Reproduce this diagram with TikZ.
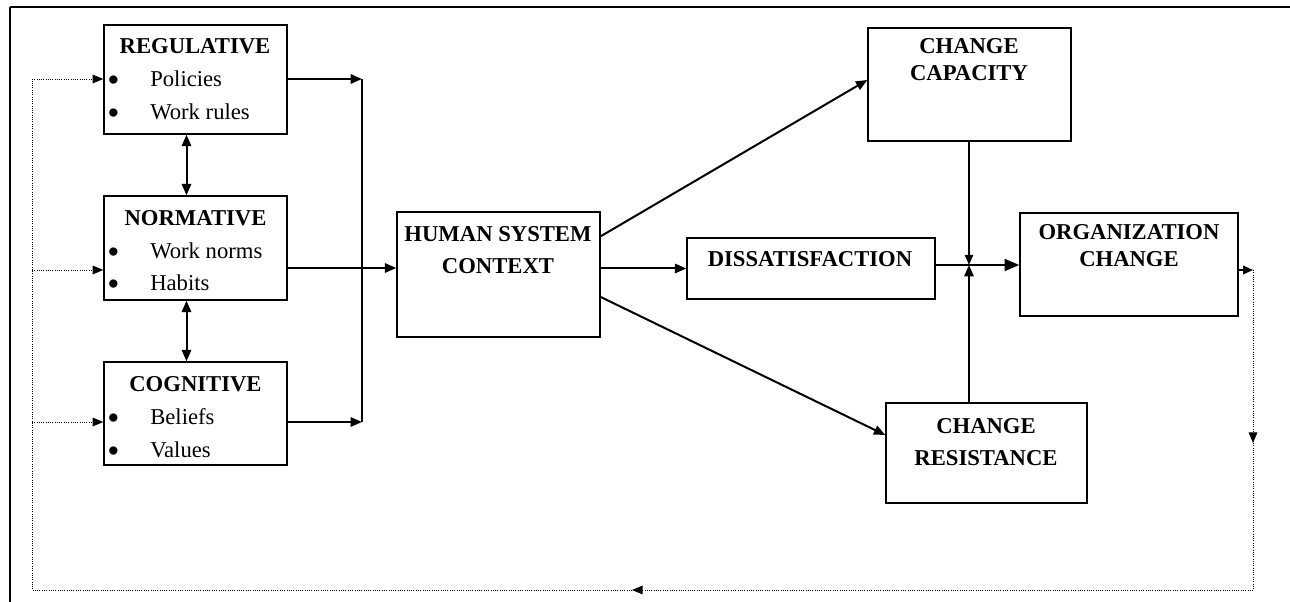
\documentclass[tikz,border=0pt]{standalone}
\usepackage{fontspec}
\setmainfont{Liberation Serif}
\usetikzlibrary{arrows.meta,calc}
\begin{document}
\begin{tikzpicture}[x=0.75pt,y=-0.75pt,
  box/.style={draw, line width=1.1pt, inner sep=0pt},
  ttl/.style={font=\fontsize{17}{20}\selectfont\bfseries, inner sep=0pt, anchor=base},
  itm/.style={font=\fontsize{17}{20}\selectfont, inner sep=0pt, anchor=base west},
  bul/.style={font=\fontsize{26}{28}\selectfont, inner sep=0pt, anchor=base},
  arr/.style={line width=1.5pt, -{Triangle[length=8.5pt,width=7pt]}},
  darr/.style={line width=1.5pt, {Triangle[length=8.5pt,width=7pt]}-{Triangle[length=8.5pt,width=7pt]}},
  ln/.style={line width=1.5pt},
  dot/.style={line width=0.7pt, densely dotted},
  dotarr/.style={line width=0.7pt, densely dotted, -{Triangle[length=8pt,width=6.5pt]}}
]
\useasboundingbox (0,0) rectangle (1290,602);
% outer frame
\draw[line width=2.2pt] (10,7) -- (1290,7);
\draw[line width=1.5pt] (10,7) -- (10,602);

% boxes
\node[box, minimum width=183*0.75pt, minimum height=109*0.75pt] (reg) at (195.5,79.5) {};
\node[box, minimum width=183*0.75pt, minimum height=104*0.75pt] (nor) at (195.5,248) {};
\node[box, minimum width=183*0.75pt, minimum height=103*0.75pt] (cog) at (195.5,413.5) {};
\node[box, minimum width=203*0.75pt, minimum height=125*0.75pt] (hsc) at (498.5,274.5) {};
\node[box, minimum width=248*0.75pt, minimum height=61*0.75pt] (dis) at (811,268.5) {};
\node[box, minimum width=203*0.75pt, minimum height=113*0.75pt] (cap) at (969.5,84.5) {};
\node[box, minimum width=218*0.75pt, minimum height=103*0.75pt] (org) at (1129,264.5) {};
\node[box, minimum width=201*0.75pt, minimum height=100*0.75pt] (res) at (986.5,453) {};

% texts
\node[ttl] (regT) at (195,53.5) {REGULATIVE};
\node[bul] (regB1) at (113.5,92) {\textbullet};
\node[itm] (regI1) at (150,86.5) {Policies};
\node[bul] (regB2) at (113.5,125) {\textbullet};
\node[itm] (regI2) at (150,119.5) {Work rules};

\node[ttl] (norT) at (195.5,225.5) {NORMATIVE};
\node[bul] (norB1) at (113.5,264) {\textbullet};
\node[itm] (norI1) at (150,258.5) {Work norms};
\node[bul] (norB2) at (113.5,296) {\textbullet};
\node[itm] (norI2) at (150,290.5) {Habits};

\node[ttl] (cogT) at (195.5,391.5) {COGNITIVE};
\node[bul] (cogB1) at (113.5,430) {\textbullet};
\node[itm] (cogI1) at (150,424.5) {Beliefs};
\node[bul] (cogB2) at (113.5,463) {\textbullet};
\node[itm] (cogI2) at (150,457.5) {Values};

\node[ttl] (hscT1) at (498,241.5) {HUMAN SYSTEM};
\node[ttl] (hscT2) at (498,273.5) {CONTEXT};
\node[ttl] (disT) at (810,266.5) {DISSATISFACTION};
\node[ttl] (capT1) at (969,53.5) {CHANGE};
\node[ttl] (capT2) at (969,80.5) {CAPACITY};
\node[ttl] (orgT1) at (1129,239.5) {ORGANIZATION};
\node[ttl] (orgT2) at (1129,266.5) {CHANGE};
\node[ttl] (resT1) at (986,433.5) {CHANGE};
\node[ttl] (resT2) at (986,465.5) {RESISTANCE};

% left group connectors
\coordinate (j1) at (362,79);
\coordinate (j2) at (362,422);
\draw[arr] (reg.east |- j1) -- (j1);
\draw[arr] (cog.east |- j2) -- (j2);
\draw[ln] (j1) -- (j2);
\coordinate (n1) at (287,268);
\draw[arr] (nor.east |- n1) -- (n1 -| hsc.west);
\draw[darr] ($(reg.south)+(-9,0)$) -- ($(nor.north)+(-9,0)$);
\draw[darr] ($(nor.south)+(-9,0)$) -- ($(cog.north)+(-9,0)$);

% HSC outputs
\draw[arr] ($(hsc.north east)+(0,25)$) -- ($(cap.west)+(0,-4.5)$);
\draw[arr] (dis.west -| hsc.east) -- (dis.west);
\draw[arr] ($(hsc.east)+(0,22.5)$) -- ($(res.west)+(0,-18)$);

% junction to organization change
\coordinate (jn) at (969,265);
\draw[line width=1.5pt, -{Triangle[length=7.5pt,width=6pt]}] (jn |- cap.south) -- (jn);
\draw[line width=1.5pt, -{Triangle[length=8.5pt,width=7pt]}] (res.north -| jn) -- (jn);
\draw[line width=1.5pt, -{Triangle[length=11pt,width=9pt]}] (dis.east |- jn) -- (org.west |- jn);

% feedback loop
\coordinate (f1) at (1253,270);
\coordinate (f2) at (1253,443);
\coordinate (f3) at (1253,590);
\coordinate (f4) at (632,590);
\coordinate (f5) at (32,590);
\coordinate (f6) at (32,79);
\coordinate (f7) at (32,270);
\coordinate (f8) at (32,422);
\draw[line width=1.2pt, -{Triangle[length=7.5pt,width=6.5pt]}] (org.east |- f1) -- (f1);
\draw[dotarr] (f1) -- (f2);
\draw[dot] (f2) -- (f3);
\draw[dotarr] (f3) -- (f4);
\draw[dot] (f4) -- (f5) -- (f6);
\draw[dotarr] (f6) -- (reg.west |- f6);
\draw[dotarr] (f7) -- (nor.west |- f7);
\draw[dotarr] (f8) -- (cog.west |- f8);
\end{tikzpicture}
\end{document}
